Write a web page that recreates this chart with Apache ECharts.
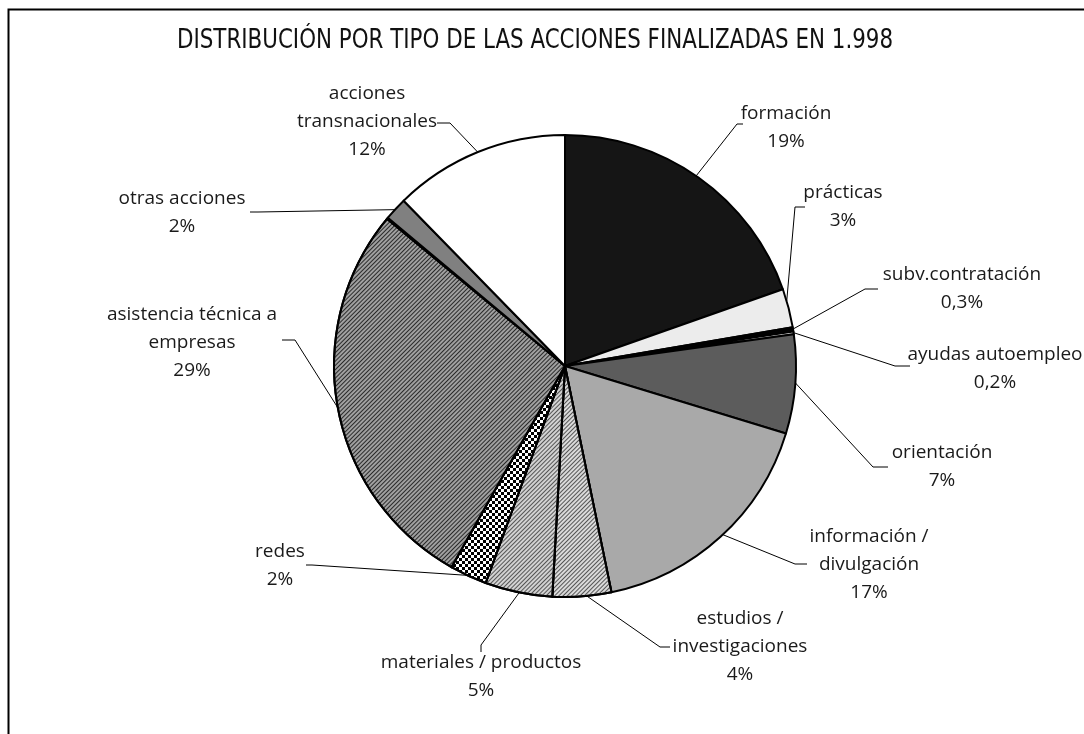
<!DOCTYPE html>
<html>
<head>
<meta charset="utf-8">
<script src="https://cdn.jsdelivr.net/npm/echarts@6/dist/echarts.min.js"></script>
<style>
  html, body { margin: 0; padding: 0; background: #fff; }
  #chart { width: 1084px; height: 734px; }
</style>
</head>
<body>
<div id="chart"></div>
<script>
const categories = [
  'formación', 'prácticas', 'subv.contratación', 'ayudas autoempleo', 'orientación',
  'información /\ndivulgación', 'estudios /\ninvestigaciones', 'materiales / productos',
  'redes', 'asistencia técnica a\nempresas', '', 'otras acciones', 'acciones\ntransnacionales'
]
// slice sizes (percent)
const shares = [19.6, 2.7, 0.3, 0.2, 6.9, 17.05, 4.1, 4.7, 2.6, 27.8, 0.1, 1.6, 12.3]
// percentages as printed on the chart
const pctLabels = ['19%', '3%', '0,3%', '0,2%', '7%', '17%', '4%', '5%', '2%', '29%', '', '2%', '12%']

const sliceColors = [
  '#151515', '#ececec', '#000000', '#f4f4f4', '#5c5c5c', '#a9a9a9',
  '#dadada', '#d2d2d2', '#ffffff', '#a0a0a0', '#e6dc00', '#808080', '#ffffff'
]

// hatch patterns for some slices (like the old b/w print)
const diag = function (col, gap) {
  return { symbol: 'rect', symbolSize: 1, color: col, dashArrayX: [1, 0], dashArrayY: [1, gap], rotation: -Math.PI / 4 }
}
const sliceDecals = [
  null, null, null, null, null, null,
  diag('#555', 2), diag('#555', 2),
  { symbol: 'rect', symbolSize: 1, color: '#000', dashArrayX: [[3, 3], [0, 3, 3, 0]], dashArrayY: [3, 0] },
  diag('#2a2a2a', 2), null, null, null
]

const CX = 565
const CY = 366
const R = 231

// label centre [x, y], leader: angle where it touches the pie, bend point, end point
const labelPos = [
  [786, 128], [843, 207], [962, 289], [995, 369], [942, 467], [869, 565],
  [740, 647], [481, 677], [280, 566], [192, 343], null, [182, 213], [367, 122]
]
const leaders = [
  [34.6, 737, 124, 743, 124],
  [73.7, 795, 207, 805, 207],
  [80.8, 865, 289, 878, 289],
  [81.7, 895, 366, 910, 366],
  [94.2, 873, 467, 888, 467],
  [136.9, 795, 564, 807, 564],
  [174.6, 660, 647, 670, 647],
  [191.4, 481, 645, 481, 652],
  [205, 312, 565, 306, 565],
  [259.6, 295, 340, 282, 340],
  null,
  [312.6, 258, 212, 250, 212],
  [337.8, 450, 123, 437, 123]
]

const chart = echarts.init(document.getElementById('chart'))

const option = {
  backgroundColor: '#fff',
  animation: false,
  graphic: [
    {
      type: 'rect',
      shape: { x: 8.5, y: 9.5, width: 1100, height: 800 },
      style: { fill: 'none', stroke: '#000', lineWidth: 2 }
    },
    {
      type: 'text',
      x: 535,
      y: 41,
      scaleX: 0.915,
      style: {
        text: 'DISTRIBUCIÓN POR TIPO DE LAS ACCIONES FINALIZADAS EN 1.998',
        fill: '#111',
        font: '26px "Liberation Sans Narrow", "DejaVu Sans Condensed", sans-serif',
        textAlign: 'center',
        textVerticalAlign: 'middle'
      }
    }
  ],
  series: [
    {
      type: 'pie',
      center: [CX, CY],
      radius: [0, R],
      startAngle: 90,
      clockwise: true,
      avoidLabelOverlap: false,
      itemStyle: {
        borderColor: '#000',
        borderWidth: 2
      },
      label: {
        show: true,
        position: 'outside',
        color: '#1a1a1a',
        fontFamily: 'Open Sans',
        fontSize: 19,
        lineHeight: 28,
        align: 'center',
        formatter: function (p) {
          return p.name + '\n' + pctLabels[p.dataIndex]
        }
      },
      labelLine: {
        show: true,
        lineStyle: { color: '#000', width: 1 }
      },
      labelLayout: function (params) {
        const i = params.dataIndex
        if (!labelPos[i]) return {}
        const l = leaders[i]
        const a = l[0] * Math.PI / 180
        const edge = [CX + R * Math.sin(a), CY - R * Math.cos(a)]
        return {
          x: labelPos[i][0],
          y: labelPos[i][1],
          align: 'center',
          verticalAlign: 'middle',
          labelLinePoints: [edge, [l[1], l[2]], [l[3], l[4]]]
        }
      },
      data: categories.map(function (name, i) {
        const style = { color: sliceColors[i] }
        if (sliceDecals[i]) style.decal = sliceDecals[i]
        return {
          name: name,
          value: shares[i],
          itemStyle: style,
          label: { show: name !== '' },
          labelLine: { show: name !== '' }
        }
      })
    }
  ]
}

chart.setOption(option)
</script>
</body>
</html>
